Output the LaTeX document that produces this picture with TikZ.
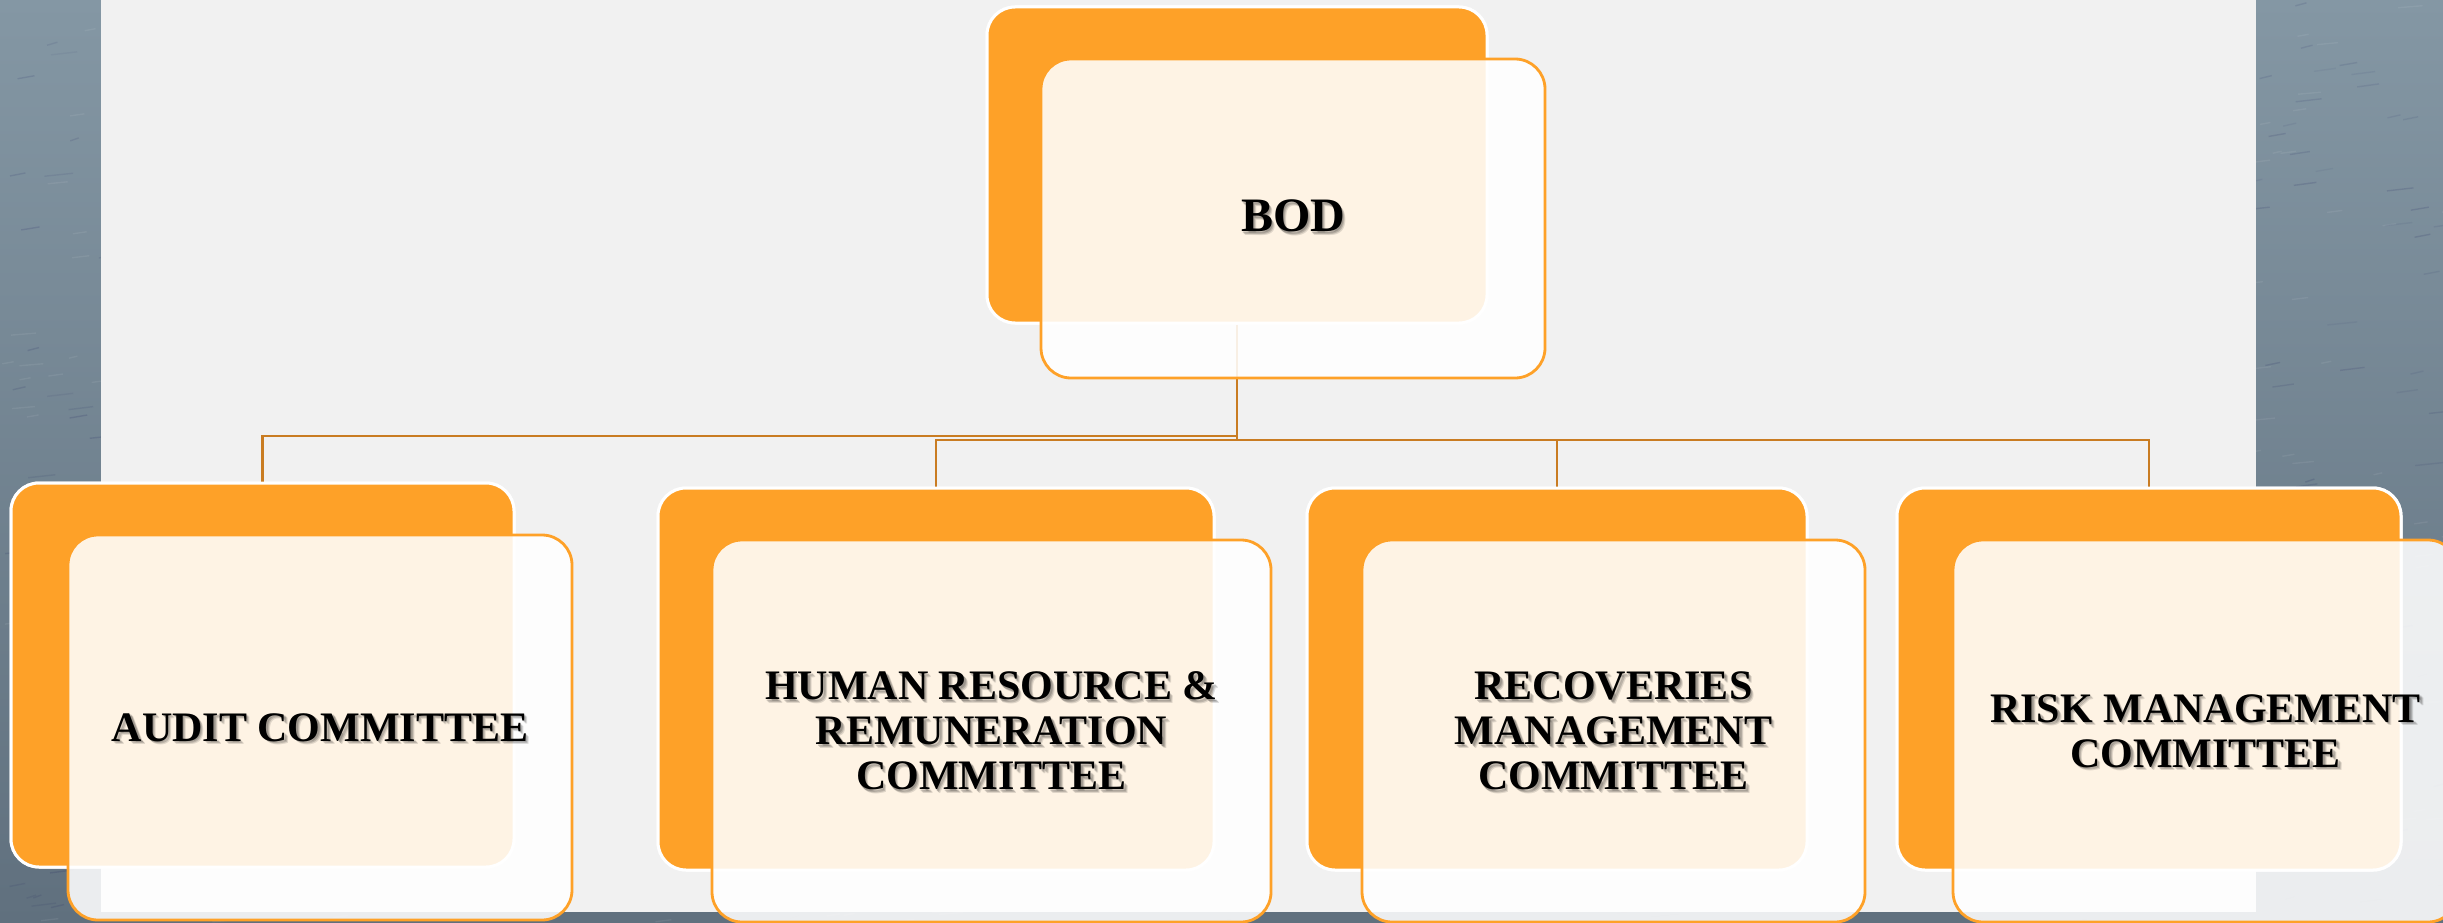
\documentclass[tikz,border=0pt]{standalone}
\usepackage{fontspec}
\setmainfont{Liberation Serif}
\definecolor{org}{RGB}{254,161,40}
\definecolor{conncol}{RGB}{201,124,34}
\definecolor{panelcol}{RGB}{241,241,241}
\definecolor{texTop}{RGB}{132,151,164}
\definecolor{texBot}{RGB}{96,112,126}
\newcommand{\shadowedlabel}[3]{%
  \node[#1, text opacity=0.16, xshift=1.5pt, yshift=-1.5pt] at (#2) {#3};
  \node[#1, text opacity=0.16, xshift=2.5pt, yshift=-2.5pt] at (#2) {#3};
  \node[#1, text opacity=0.12, xshift=3.5pt, yshift=-3.5pt] at (#2) {#3};
}
\begin{document}
\begin{tikzpicture}[x=1pt,y=-1pt,
  backbox/.style={draw=white, line width=3pt, fill=org, rounded corners=28pt, inner sep=0pt},
  frontbox/.style={draw=org, line width=2.8pt, fill=white, fill opacity=0.88, rounded corners=30pt, inner sep=0pt},
  conn/.style={draw=conncol, line width=2.8pt},
  lbl/.style={font=\bfseries\fontsize{42}{45}\selectfont, align=center, text=black, inner sep=0pt},
  bodlbl/.style={font=\bfseries\fontsize{48}{50}\selectfont, text=black, inner sep=0pt, yshift=2.5pt}
]
\useasboundingbox (0,0) rectangle (2443,923);
\clip (0,0) rectangle (2443,923);
% textured background
\shade[top color=texTop, bottom color=texBot] (0,0) rectangle (2443,923);
\pgfmathsetseed{7}
\foreach \i in {1,...,900}{
  \pgfmathsetmacro{\px}{rnd*2443}
  \pgfmathsetmacro{\py}{rnd*923}
  \pgfmathsetmacro{\pl}{8+rnd*22}
  \pgfmathsetmacro{\po}{0.04+rnd*0.08}
  \draw[line width=1.4pt, draw opacity=\po, draw=black!70!blue] (\px,\py) -- ++(\pl,-3);
}
\foreach \i in {1,...,600}{
  \pgfmathsetmacro{\px}{rnd*2443}
  \pgfmathsetmacro{\py}{rnd*923}
  \pgfmathsetmacro{\pl}{8+rnd*18}
  \draw[line width=1.4pt, draw opacity=0.07, draw=white] (\px,\py) -- ++(\pl,-2);
}
\fill[panelcol] (101,0) rectangle (2256,912);

% bus levels
\coordinate (busA) at (0,436);
\coordinate (busB) at (0,440);

% back boxes
\node[backbox, minimum width=500pt, minimum height=316pt] (bodB) at (1237,165) {};
\node[backbox, minimum width=503pt, minimum height=384pt] (audB) at (262.5,675) {};
\node[backbox, minimum width=556pt, minimum height=382pt] (hrB) at (936,679) {};
\node[backbox, minimum width=500pt, minimum height=382pt] (recB) at (1557,679) {};
\node[backbox, minimum width=504pt, minimum height=382pt] (riskB) at (2149,679) {};

% connectors
\draw[conn] (bodB.south) -- (bodB.south |- busA) -| (audB.north);
\draw[conn] (bodB.south) -- (bodB.south |- busB) -| (hrB.north);
\draw[conn] (bodB.south) -- (bodB.south |- busB) -| (recB.north);
\draw[conn] (bodB.south) -- (bodB.south |- busB) -| (riskB.north);

% redraw back boxes over connector ends
\node[backbox, minimum width=500pt, minimum height=316pt] at (bodB) {};
\node[backbox, minimum width=503pt, minimum height=384pt] at (audB) {};
\node[backbox, minimum width=556pt, minimum height=382pt] at (hrB) {};
\node[backbox, minimum width=500pt, minimum height=382pt] at (recB) {};
\node[backbox, minimum width=504pt, minimum height=382pt] at (riskB) {};

% front boxes
\node[frontbox, minimum width=504pt, minimum height=319pt] (bodF) at (1293,218.5) {};
\node[frontbox, minimum width=504pt, minimum height=385pt] (audF) at (320,727.5) {};
\node[frontbox, minimum width=559pt, minimum height=382pt] (hrF) at (991.5,731) {};
\node[frontbox, minimum width=503pt, minimum height=382pt] (recF) at (1613.5,731) {};
\node[frontbox, minimum width=505pt, minimum height=382pt] (riskF) at (2205.5,731) {};

% labels: soft shadow then text
\shadowedlabel{bodlbl}{bodF}{BOD}
\node[bodlbl] (bodT) at (bodF) {BOD};

\shadowedlabel{lbl}{audF}{AUDIT COMMITTEE}
\node[lbl] (audT) at (audF) {AUDIT COMMITTEE};

\shadowedlabel{lbl}{hrF}{HUMAN RESOURCE \&\\REMUNERATION\\COMMITTEE}
\node[lbl] (hrT) at (hrF) {HUMAN RESOURCE \&\\REMUNERATION\\COMMITTEE};

\shadowedlabel{lbl}{recF}{RECOVERIES\\MANAGEMENT\\COMMITTEE}
\node[lbl] (recT) at (recF) {RECOVERIES\\MANAGEMENT\\COMMITTEE};

\shadowedlabel{lbl}{riskF}{RISK MANAGEMENT\\COMMITTEE}
\node[lbl] (riskT) at (riskF) {RISK MANAGEMENT\\COMMITTEE};
\end{tikzpicture}
\end{document}
